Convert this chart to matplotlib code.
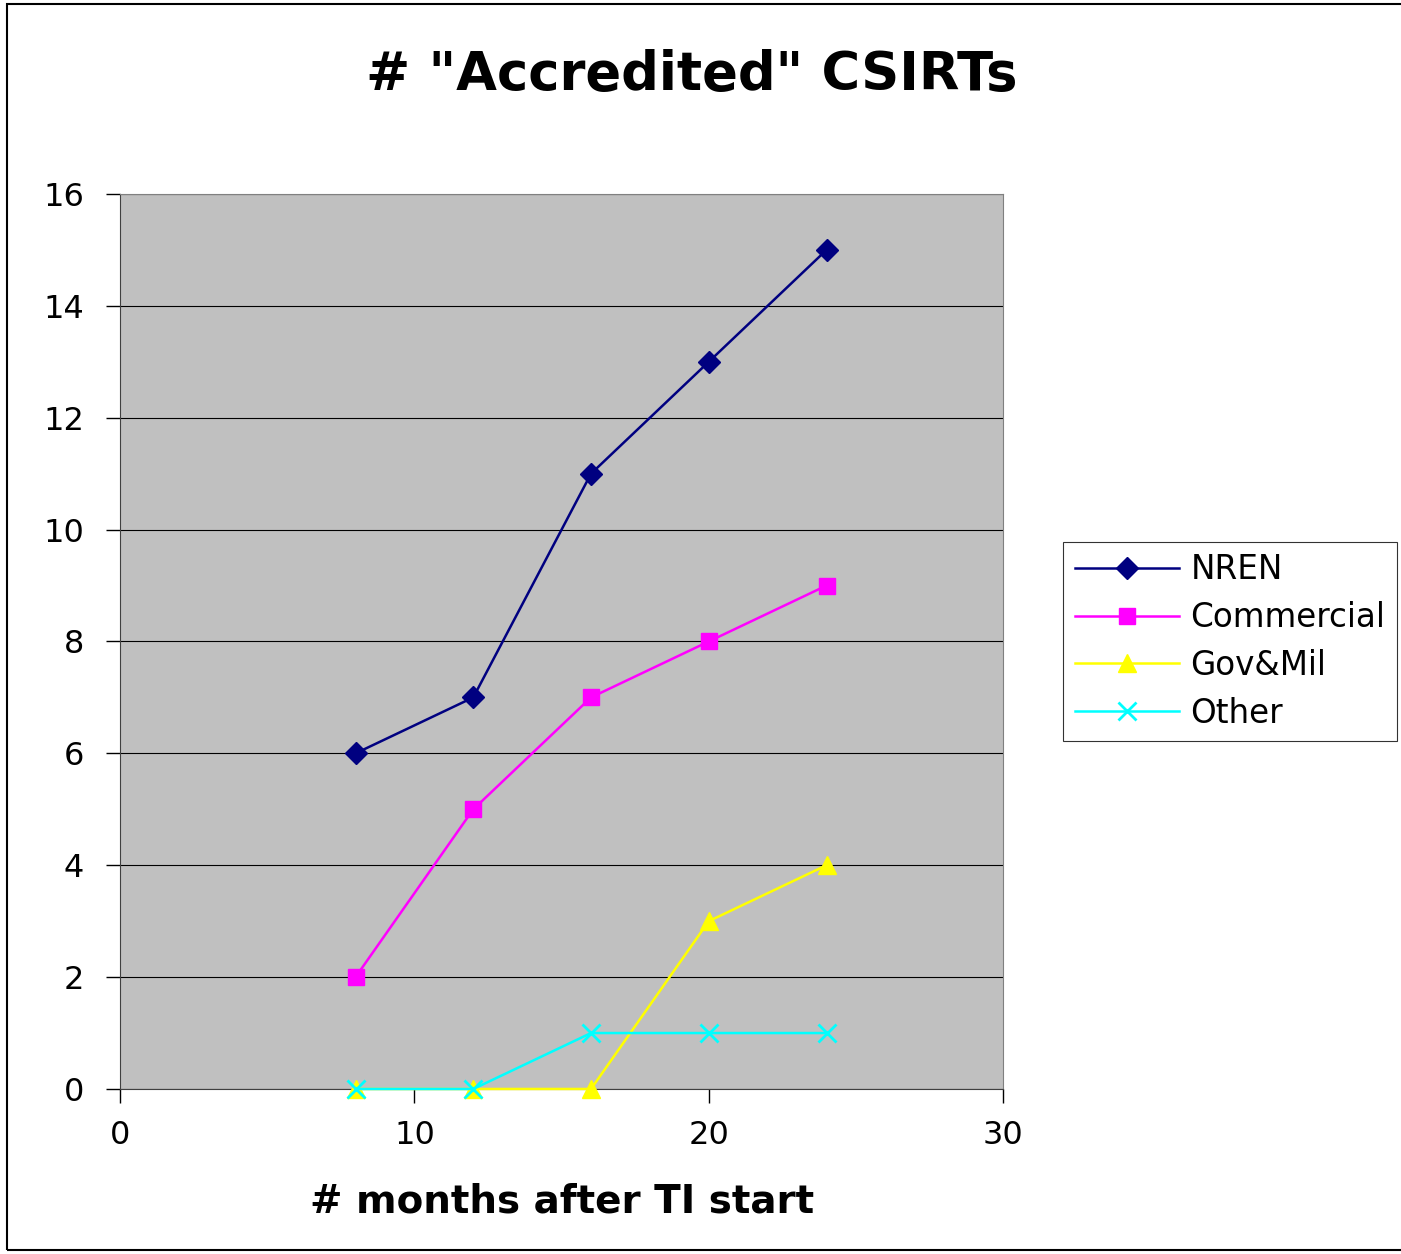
import matplotlib.pyplot as plt
from matplotlib.patches import Rectangle

months = [8, 12, 16, 20, 24]
nren = [6, 7, 11, 13, 15]
commercial = [2, 5, 7, 8, 9]
govmil = [0, 0, 0, 3, 4]
other = [0, 0, 1, 1, 1]

plt.rcParams['font.family'] = ['DejaVu Sans']

fig = plt.figure(figsize=(14.01, 12.54), dpi=100)
ax = fig.add_axes([0.0857, 0.1316, 0.6303, 0.7137])
ax.set_facecolor('#C0C0C0')

ax.plot(months, nren, color='#000080', marker='D', markersize=11, lw=1.8,
        label='NREN', clip_on=False, zorder=5)
ax.plot(months, commercial, color='#FF00FF', marker='s', markersize=11, lw=1.8,
        label='Commercial', clip_on=False, zorder=5)
ax.plot(months, govmil, color='#FFFF00', marker='^', markersize=13, lw=1.8,
        label='Gov&Mil', clip_on=False, zorder=5)
ax.plot(months, other, color='#00FFFF', marker='x', markersize=13, mew=2, lw=1.8,
        label='Other', clip_on=False, zorder=6)

ax.set_xlim(0, 30)
ax.set_ylim(0, 16)
ax.set_xticks([0, 10, 20, 30])
ax.set_yticks(range(0, 17, 2))
ax.yaxis.grid(True, color='black', lw=0.8)
ax.set_axisbelow(True)
ax.tick_params(labelsize=23, length=10, width=1, direction='out')
ax.tick_params(axis='x', pad=12)
ax.tick_params(axis='y', pad=16)
for s in ['top', 'right']:
    ax.spines[s].set_color('#808080')
for s in ['left', 'bottom']:
    ax.spines[s].set_color('#404040')

ax.set_xlabel('# months after TI start', fontsize=28, fontweight='bold', labelpad=23)
fig.text(0.494, 0.94, '# "Accredited" CSIRTs', fontsize=38, fontweight='bold',
         ha='center', va='center')

leg = ax.legend(loc='center left', bbox_to_anchor=(1.068, 0.5), fontsize=23.5,
                frameon=True, fancybox=False, edgecolor='black', handlelength=3.2,
                handletextpad=0.35, borderpad=0.35, labelspacing=0.45,
                borderaxespad=0)
leg.get_frame().set_linewidth(0.8)

fig.patches.append(Rectangle((0.005, 0.003), 1.2, 0.994, transform=fig.transFigure,
                             fill=False, edgecolor='black', lw=1.5))

fig.savefig('out.png', dpi=100)
